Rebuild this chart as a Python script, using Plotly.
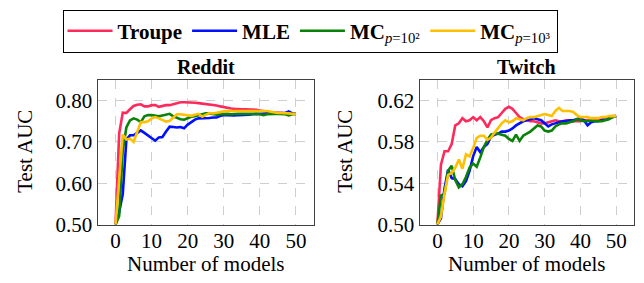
import plotly.graph_objects as go

models = list(range(51))

reddit_troupe = [0.50, 0.72, 0.771, 0.770, 0.779, 0.787, 0.790, 0.791, 0.786, 0.786,
                 0.789, 0.789, 0.785, 0.787, 0.789, 0.789, 0.791, 0.794, 0.796, 0.796,
                 0.796, 0.796, 0.795, 0.794, 0.793, 0.792, 0.790, 0.789, 0.788, 0.786,
                 0.784, 0.782, 0.781, 0.780, 0.779, 0.779, 0.779, 0.779, 0.779, 0.778,
                 0.776, 0.774, 0.773, 0.772, 0.771, 0.770, 0.770, 0.769, 0.769, 0.768, 0.768]
reddit_mle = [0.50, 0.53, 0.574, 0.705, 0.716, 0.716, 0.722, 0.728, 0.722, 0.715,
              0.708, 0.703, 0.711, 0.712, 0.725, 0.737, 0.736, 0.735, 0.736, 0.733,
              0.742, 0.749, 0.754, 0.757, 0.757, 0.758, 0.758, 0.759, 0.759, 0.763,
              0.765, 0.765, 0.764, 0.764, 0.765, 0.765, 0.766, 0.766, 0.767, 0.768,
              0.768, 0.768, 0.769, 0.769, 0.769, 0.770, 0.770, 0.770, 0.774, 0.769, 0.768]
reddit_mc2 = [0.50, 0.52, 0.68, 0.735, 0.752, 0.757, 0.754, 0.748, 0.762, 0.765,
              0.765, 0.764, 0.762, 0.764, 0.766, 0.768, 0.762, 0.758, 0.755, 0.754,
              0.758, 0.761, 0.762, 0.764, 0.767, 0.769, 0.769, 0.768, 0.766, 0.767,
              0.768, 0.768, 0.767, 0.768, 0.768, 0.768, 0.768, 0.769, 0.769, 0.768,
              0.767, 0.765, 0.767, 0.768, 0.768, 0.768, 0.768, 0.767, 0.764, 0.767, 0.768]
reddit_mc3 = [0.50, 0.62, 0.718, 0.706, 0.708, 0.700, 0.725, 0.748, 0.748, 0.750,
              0.757, 0.760, 0.757, 0.753, 0.749, 0.751, 0.758, 0.767, 0.767, 0.766,
              0.764, 0.763, 0.766, 0.768, 0.761, 0.765, 0.770, 0.769, 0.771, 0.772,
              0.774, 0.775, 0.775, 0.776, 0.776, 0.776, 0.776, 0.776, 0.775, 0.775,
              0.775, 0.775, 0.775, 0.773, 0.771, 0.770, 0.770, 0.770, 0.769, 0.768, 0.768]

twitch_troupe = [0.50, 0.558, 0.571, 0.571, 0.578, 0.596, 0.598, 0.603, 0.600, 0.601,
                 0.604, 0.601, 0.604, 0.600, 0.594, 0.601, 0.603, 0.604, 0.608, 0.612,
                 0.614, 0.612, 0.608, 0.604, 0.602, 0.601, 0.600, 0.600, 0.599, 0.598,
                 0.598, 0.599, 0.600, 0.601, 0.600, 0.600, 0.601, 0.601, 0.600, 0.600,
                 0.600, 0.601, 0.601, 0.600, 0.601, 0.602, 0.602, 0.603, 0.604, 0.605, 0.605]
twitch_mle = [0.50, 0.506, 0.535, 0.553, 0.545, 0.544, 0.539, 0.537, 0.542, 0.552,
              0.566, 0.575, 0.570, 0.575, 0.578, 0.585, 0.587, 0.588, 0.590, 0.590,
              0.591, 0.593, 0.596, 0.598, 0.600, 0.601, 0.602, 0.603, 0.602, 0.601,
              0.598, 0.595, 0.597, 0.598, 0.599, 0.600, 0.600, 0.601, 0.601, 0.602,
              0.603, 0.601, 0.596, 0.599, 0.600, 0.600, 0.601, 0.602, 0.603, 0.604, 0.605]
twitch_mc2 = [0.50, 0.528, 0.530, 0.552, 0.557, 0.543, 0.536, 0.539, 0.546, 0.555,
              0.559, 0.556, 0.565, 0.575, 0.582, 0.587, 0.588, 0.588, 0.587, 0.586,
              0.583, 0.581, 0.587, 0.581, 0.586, 0.588, 0.590, 0.593, 0.596, 0.595,
              0.591, 0.590, 0.591, 0.595, 0.597, 0.598, 0.598, 0.599, 0.600, 0.602,
              0.601, 0.600, 0.600, 0.601, 0.600, 0.600, 0.600, 0.601, 0.602, 0.604, 0.605]
twitch_mc3 = [0.50, 0.508, 0.530, 0.548, 0.550, 0.555, 0.563, 0.554, 0.568, 0.566,
              0.574, 0.584, 0.586, 0.586, 0.582, 0.584, 0.589, 0.594, 0.598, 0.601,
              0.599, 0.600, 0.603, 0.602, 0.601, 0.603, 0.604, 0.604, 0.605, 0.606,
              0.607, 0.606, 0.605, 0.610, 0.613, 0.610, 0.610, 0.610, 0.609, 0.606,
              0.604, 0.604, 0.604, 0.603, 0.603, 0.603, 0.604, 0.604, 0.605, 0.605, 0.605]

series_names = ["<b>Troupe</b>", "<b>MLE</b>",
                "<b>MC</b><sub><i>p</i>=10²</sub>", "<b>MC</b><sub><i>p</i>=10³</sub>"]
series_colors = ["#FF2A5C", "#0010FF", "#0A820A", "#FFC000"]

x_ticks = [0, 10, 20, 30, 40, 50]
reddit_yticks = [0.50, 0.60, 0.70, 0.80]
twitch_yticks = [0.50, 0.54, 0.58, 0.62]

FONT = "Liberation Serif"
W, H = 644, 283

fig = go.Figure()
reddit = [reddit_troupe, reddit_mle, reddit_mc2, reddit_mc3]
twitch = [twitch_troupe, twitch_mle, twitch_mc2, twitch_mc3]
for i in range(4):
    fig.add_trace(go.Scatter(x=models, y=reddit[i], mode="lines", name=series_names[i],
                             line=dict(color=series_colors[i], width=2.6),
                             xaxis="x", yaxis="y", legendgroup=str(i)))
for i in range(4):
    fig.add_trace(go.Scatter(x=models, y=twitch[i], mode="lines", name=series_names[i],
                             line=dict(color=series_colors[i], width=2.6),
                             xaxis="x2", yaxis="y2", legendgroup=str(i), showlegend=False))

left_dom = [97.5 / W, 314 / W]
right_dom = [419.5 / W, 634 / W]
y_dom = [(H - 234.5) / H, (H - 83.5) / H]

axis_common = dict(showline=True, mirror=True, linecolor="#404040", linewidth=1,
                   showgrid=True, gridcolor="#cfcfcf", griddash="dash", gridwidth=1,
                   zeroline=False, ticks="", tickfont=dict(family=FONT, size=21, color="black"))

fig.update_layout(
    width=W, height=H, margin=dict(l=0, r=0, t=0, b=0),
    paper_bgcolor="white", plot_bgcolor="white",
    font=dict(family=FONT, size=21, color="black"),
    xaxis=dict(domain=left_dom, range=[-5, 55], tickvals=x_ticks, anchor="y",
               ticklabelstandoff=-3, **axis_common),
    yaxis=dict(domain=y_dom, range=[0.5, 0.85], tickvals=reddit_yticks,
               ticktext=[f"{v:.2f}" for v in reddit_yticks], anchor="x", **axis_common),
    xaxis2=dict(domain=right_dom, range=[-5, 55], tickvals=x_ticks, anchor="y2",
                ticklabelstandoff=-3, **axis_common),
    yaxis2=dict(domain=y_dom, range=[0.5, 0.64], tickvals=twitch_yticks,
                ticktext=[f"{v:.2f}" for v in twitch_yticks], anchor="x2", **axis_common),
    showlegend=True,
    legend=dict(orientation="h", x=62.5 / W, y=(H - 10) / H, xanchor="left", yanchor="top",
                bordercolor="black", borderwidth=1, bgcolor="white",
                font=dict(family=FONT, size=21, color="black"), itemwidth=45,
                tracegroupgap=0),
)

def ann(text, x, y, size=21, angle=0):
    fig.add_annotation(text=text, x=x / W, y=(H - y) / H, xref="paper", yref="paper",
                       showarrow=False, xanchor="center", yanchor="middle", textangle=angle,
                       font=dict(family=FONT, size=size, color="black"))

ann("<b>Reddit</b>", 205.75, 70, size=20)
ann("<b>Twitch</b>", 526.75, 70, size=20)
ann("Number of models", 205.75, 275.5)
ann("Number of models", 526.75, 275.5)
ann("Test AUC", 25.5, 158, angle=-90)
ann("Test AUC", 345.5, 158, angle=-90)

fig.write_html("out.html", config={"displayModeBar": False},
               post_script="document.body.style.margin='0';")
